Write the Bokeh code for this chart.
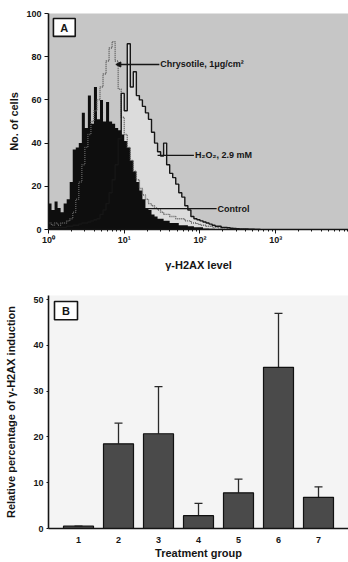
import numpy as np
from bokeh.plotting import figure
from bokeh.models import Range1d, FixedTicker, Whisker, TeeHead, ColumnDataSource, Arrow, NormalHead
from bokeh.layouts import column
from bokeh.embed import file_html
from bokeh.resources import INLINE
from bokeh.core.properties import value

# ---------------- Panel A data: histogram channels (log10 decades) ----------------
bin_start = 0.0      # first channel edge, in decades
bin_width = 0.04     # channel width, in decades

control = [12, 9, 13, 10, 8, 12, 14, 22, 37, 38,
           40, 54, 47, 62, 49, 66, 51, 60, 50, 59,
           50, 49, 47, 46, 44, 41, 38, 32, 27, 22,
           18, 14, 10, 9, 7, 6, 5, 5, 4, 4,
           3, 3, 3, 2, 2, 2, 1.5, 1.5, 1, 1,
           1, 0.5, 0.5, 0.3, 0.3, 0, 0, 0, 0, 0,
           0, 0, 0, 0, 0, 0, 0, 0, 0, 0]

h2o2 = [1, 1, 1, 1, 1, 1, 1.5, 1.5, 2, 2,
        2.5, 3, 3, 3.5, 4, 4.5, 5, 7, 9, 12,
        17, 23, 30, 42, 63, 55, 86, 66, 73, 62,
        60, 57, 54, 51, 45, 40, 36, 34, 40, 30,
        26, 24, 21, 17, 15, 11, 9, 6, 5, 4.5,
        4, 3.5, 3, 2.5, 2, 1.5, 1.5, 1, 1, 0.8,
        0.6, 0.5, 0.4, 0.3, 0.2, 0.2, 0.1, 0.1, 0, 0]

chrysotile = [3, 2, 3, 2, 3, 3, 4, 5, 8, 14,
              22, 30, 38, 44, 50, 55, 60, 66, 72, 78,
              84, 87, 78, 65, 52, 44, 38, 32, 27, 23,
              19, 16, 14, 12, 11, 10, 9, 8, 7, 7,
              6, 6, 5, 5, 5, 4, 4, 3, 3, 2.5,
              2, 2, 1.5, 1.5, 1, 1, 0.8, 0.5, 0.5, 0.3,
              0.3, 0.2, 0.2, 0.1, 0.1, 0, 0, 0, 0, 0]

x_ticks_a = [1, 10, 100, 1000]
x_tick_labels_a = ["10\u2070", "10\u00b9", "10\u00b2", "10\u00b3"]
y_ticks_a = [0, 20, 40, 60, 80, 100]

# ---------------- Panel B data ----------------
groups = [1, 2, 3, 4, 5, 6, 7]
pct = [0.5, 18.5, 20.7, 2.8, 7.8, 35.2, 6.8]
pct_upper = [0.5, 23.0, 31.0, 5.5, 10.8, 47.0, 9.1]
y_ticks_b = [0, 10, 20, 30, 40, 50]

FONT = "Liberation Sans"
INK = "#151515"

# ================= Panel A =================
n = len(control)
edges = 10 ** (bin_start + bin_width * np.arange(n + 1))

pa = figure(width=348, height=278, x_axis_type="log",
            x_range=Range1d(1, 10 ** 3.961), y_range=Range1d(0, 100),
            output_backend="svg", toolbar_location=None,
            min_border_left=45, min_border_right=0, min_border_top=13, min_border_bottom=49)
pa.background_fill_color = "#c6c6c6"
pa.border_fill_color = "white"
pa.outline_line_color = None
pa.grid.visible = False

pa.varea_step(x=edges, y1=0, y2=h2o2 + [h2o2[-1]], step_mode="after", fill_color="#dcdcdc")
pa.varea_step(x=edges, y1=0, y2=control + [control[-1]], step_mode="after", fill_color="#0e0e0e")
pa.step(x=edges, y=chrysotile + [chrysotile[-1]], mode="after",
        line_color="#5c5c5c", line_width=1.4, line_dash="1 1")
pa.step(x=edges, y=h2o2 + [h2o2[-1]], mode="after", line_color="#161616", line_width=1.4)

# panel letter box
pa.quad(left=[10 ** 0.065], right=[10 ** 0.353], bottom=[89.4], top=[97.7],
        fill_color="white", line_color=INK, line_width=1.6)
pa.text(x=[10 ** 0.209], y=[93.5], text=["A"], text_align="center", text_baseline="middle",
        text_font=value(FONT), text_font_style="bold", text_font_size="11px", text_color=INK)

# series labels
pa.add_layout(Arrow(end=NormalHead(size=5, fill_color=INK, line_color=INK),
                    x_start=10 ** 1.464, y_start=76.4, x_end=10 ** 0.889, y_end=76.4,
                    line_color=INK, line_width=1.3))
pa.segment(x0=[10 ** 1.44, 10 ** 1.28], y0=[34.3, 9.7], x1=[10 ** 1.92, 10 ** 2.22], y1=[34.3, 9.7],
           line_color=INK, line_width=1.3)
pa.text(x=[10 ** 1.475, 10 ** 1.935, 10 ** 2.23], y=[76.4, 34.3, 9.7],
        text=["Chrysotile, 1\u03bcg/cm\u00b2", "H\u2082O\u2082, 2.9 mM", "Control"],
        text_align="left", text_baseline="middle",
        text_font=value(FONT), text_font_style="bold", text_font_size="9px", text_color=INK)

pa.xaxis.ticker = FixedTicker(ticks=x_ticks_a,
                              minor_ticks=[m * d for d in x_ticks_a for m in range(2, 10)])
pa.xaxis.major_label_overrides = dict(zip(x_ticks_a, x_tick_labels_a))
pa.yaxis.ticker = FixedTicker(ticks=y_ticks_a)
pa.xaxis.axis_label = "\u03b3-H2AX level"
pa.yaxis.axis_label = "No. of cells"
for ax in (pa.xaxis[0], pa.yaxis[0]):
    ax.axis_line_color = INK
    ax.axis_line_width = 1.6
    ax.major_tick_line_color = INK
    ax.minor_tick_line_color = INK
    ax.major_tick_in = 0
    ax.major_tick_out = 4
    ax.minor_tick_in = 0
    ax.minor_tick_out = 2
    ax.major_label_text_font = FONT
    ax.major_label_text_font_style = "bold"
    ax.major_label_text_font_size = "9px"
    ax.major_label_text_color = INK
    ax.axis_label_text_font = FONT
    ax.axis_label_text_font_style = "bold"
    ax.axis_label_text_font_size = "11px"
    ax.axis_label_text_color = INK
pa.xaxis.major_label_standoff = 1
pa.xaxis.axis_label_standoff = 11
pa.yaxis.major_label_standoff = 3
pa.yaxis.axis_label_standoff = 3
pa.yaxis.minor_tick_out = 0

# ================= Panel B =================
src = ColumnDataSource(dict(x=groups, top=pct, upper=pct_upper))
pb = figure(width=348, height=284, x_range=Range1d(0.25, 7.75), y_range=Range1d(0, 50.9),
            output_backend="svg", toolbar_location=None,
            min_border_left=48, min_border_right=0, min_border_top=17, min_border_bottom=34)
pb.background_fill_color = "#f4f4f4"
pb.border_fill_color = "white"
pb.outline_line_color = None
pb.grid.visible = False

pb.vbar(x="x", top="top", width=0.75, source=src, fill_color="#4a4a4a", line_color="#111111",
        line_width=1.2)
pb.add_layout(Whisker(source=src, base="x", lower="top", upper="upper", dimension="height",
                      line_color="#2a2a2a", line_width=1.3, lower_head=None,
                      upper_head=TeeHead(size=8, line_color="#2a2a2a", line_width=1.3)))

pb.quad(left=[0.4], right=[0.975], bottom=[45.6], top=[49.6],
        fill_color="white", line_color=INK, line_width=1.6)
pb.text(x=[0.6875], y=[47.6], text=["B"], text_align="center", text_baseline="middle",
        text_font=value(FONT), text_font_style="bold", text_font_size="11px", text_color=INK)

pb.xaxis.ticker = FixedTicker(ticks=groups)
pb.yaxis.ticker = FixedTicker(ticks=y_ticks_b)
pb.xaxis.axis_label = "Treatment group"
pb.yaxis.axis_label = "Relative percentage of \u03b3-H2AX induction"
for ax in (pb.xaxis[0], pb.yaxis[0]):
    ax.axis_line_color = INK
    ax.axis_line_width = 1.6
    ax.major_tick_line_color = INK
    ax.major_tick_in = 0
    ax.minor_tick_line_color = None
    ax.major_label_text_font = FONT
    ax.major_label_text_font_style = "bold"
    ax.major_label_text_font_size = "9px"
    ax.major_label_text_color = INK
    ax.axis_label_text_font = FONT
    ax.axis_label_text_font_style = "bold"
    ax.axis_label_text_font_size = "11px"
    ax.axis_label_text_color = INK
pb.xaxis.major_tick_out = 0
pb.xaxis.major_label_standoff = 8
pb.xaxis.axis_label_standoff = 1
pb.yaxis.major_tick_out = 2
pb.yaxis.major_label_standoff = 3
pb.yaxis.axis_label_standoff = 13

layout = column(pa, pb)
open("out.html", "w").write(file_html(layout, INLINE))
